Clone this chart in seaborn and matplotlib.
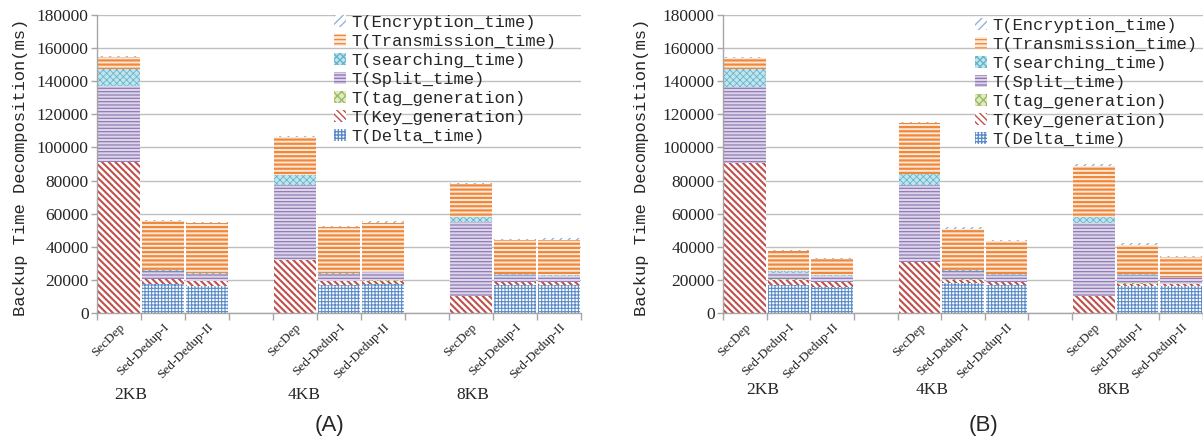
import matplotlib
matplotlib.use("Agg")
import matplotlib.pyplot as plt
import numpy as np
import pandas as pd
import seaborn as sns
from matplotlib.patches import Patch
from matplotlib.ticker import FixedLocator
from matplotlib.transforms import blended_transform_factory

# ---------------------------------------------------------------- data (ms)
schemes = ["SecDep", "Sed-Dedup-I", "Sed-Dedup-II"]
chunk_sizes = ["2KB", "4KB", "8KB"]
components = ["T(Delta_time)", "T(Key_generation)", "T(tag_generation)",
              "T(Split_time)", "T(searching_time)", "T(Transmission_time)",
              "T(Encryption_time)"]

# order within each list: (SecDep, Sed-Dedup-I, Sed-Dedup-II) for 2KB, 4KB, 8KB
a_delta = [0, 17700, 16100, 0, 17100, 17500, 0, 17100, 17100]
a_key = [91100, 2800, 3000, 32200, 2000, 2000, 10000, 1400, 1400]
a_tag = [0, 300, 300, 0, 300, 300, 0, 300, 300]
a_split = [46100, 4300, 4100, 45200, 4100, 4700, 44700, 4300, 3700]
a_search = [10200, 1000, 800, 6100, 500, 500, 3200, 500, 500]
a_trans = [7100, 29600, 30000, 22700, 27700, 29300, 20100, 20200, 21200]
a_encrypt = [600, 600, 800, 800, 600, 1000, 800, 900, 1200]

b_delta = [0, 17100, 15700, 0, 18100, 17100, 0, 16100, 16100]
b_key = [90500, 3000, 3000, 31100, 2000, 1400, 10000, 1600, 1400]
b_tag = [0, 300, 300, 0, 300, 300, 0, 300, 300]
b_split = [46300, 3700, 3100, 46300, 5100, 4300, 44300, 5100, 3700]
b_search = [10500, 1000, 800, 6700, 500, 500, 3400, 600, 500]
b_trans = [6800, 12100, 9700, 30600, 24900, 19600, 31200, 17500, 11800]
b_encrypt = [600, 600, 400, 600, 800, 1000, 800, 800, 800]

panel_a = [a_delta, a_key, a_tag, a_split, a_search, a_trans, a_encrypt]
panel_b = [b_delta, b_key, b_tag, b_split, b_search, b_trans, b_encrypt]

y_ticks = [0, 20000, 40000, 60000, 80000, 100000, 120000, 140000, 160000, 180000]

# ---------------------------------------------------------------- styles
BS = chr(92)  # backslash hatch character
styles = {
    "T(Delta_time)": dict(face="#ffffff", edge="#5b8bc7", hatch="+++++", lw=0.8),
    "T(Key_generation)": dict(face="#ffffff", edge="#c0504d", hatch=BS * 5, lw=1.5),
    "T(tag_generation)": dict(face="#dfeacb", edge="#9bbb59", hatch="xxxx", lw=0.8),
    "T(Split_time)": dict(face="#ddd5ea", edge="#907bb5", hatch="-----", lw=0.9),
    "T(searching_time)": dict(face="#c3e4ed", edge="#62b6cc", hatch="xxxxx", lw=0.6),
    "T(Transmission_time)": dict(face="#fde9d9", edge="#f0883c", hatch="----", lw=1.6),
    "T(Encryption_time)": dict(face="#ffffff", edge="#95b3d7", hatch="////", lw=1.0),
}

sns.set_theme(style="white")
plt.rcParams["font.family"] = ["Liberation Serif", "DejaVu Serif"]
plt.rcParams["hatch.linewidth"] = 1.0

# category slots: three bars per chunk size, separated by an empty slot
slots = []
for i, size in enumerate(chunk_sizes):
    slots += [f"{s}|{size}" for s in schemes]
    if i < len(chunk_sizes) - 1:
        slots.append(f"gap{i}")
bar_slots = [s for s in slots if not s.startswith("gap")]


def build_frame(values):
    rows = []
    for comp, vals in zip(components, values):
        for slot, v in zip(bar_slots, vals):
            rows.append(dict(slot=slot, component=comp, value=v))
    df = pd.DataFrame(rows)
    df["component"] = pd.Categorical(df["component"], components, ordered=True)
    df = df.sort_values(["slot", "component"])
    df["top"] = df.groupby("slot")["value"].cumsum()
    return df


def draw_panel(ax, values, legend_x, legend_y, group_offsets, group_y,
               label_x, letter, letter_x):
    df = build_frame(values)
    # draw cumulative totals from the top layer down so each layer covers the rest
    for comp in reversed(components):
        st = styles[comp]
        n0 = len(ax.patches)
        sns.barplot(data=df[df["component"] == comp], x="slot", y="top",
                    order=slots, color=st["face"], saturation=1, width=0.95,
                    errorbar=None, ax=ax)
        for p in ax.patches[n0:]:
            p.set_hatch(st["hatch"])
            p.set_edgecolor(st["edge"])
            p.set_linewidth(0)
            try:
                p.set_hatch_linewidth(st["lw"])
            except AttributeError:
                pass

    ax.set_xlim(-0.5, len(slots) - 0.5)
    ax.set_ylim(0, 180000)
    ax.set_yticks(y_ticks)
    ax.set_yticklabels([str(t) for t in y_ticks], fontsize=12.5,
                       family=["Liberation Serif"])
    ax.yaxis.grid(True, color="#bfbfbf", lw=1)
    ax.xaxis.grid(False)
    ax.set_axisbelow(True)
    for side in ("top", "right"):
        ax.spines[side].set_visible(False)
    for side in ("left", "bottom"):
        ax.spines[side].set_color("#a6a6a6")
        ax.spines[side].set_linewidth(1)
    ax.tick_params(axis="y", which="major", length=4, width=1, color="#a6a6a6",
                   direction="out", left=True, pad=2)

    # scheme names under each bar, boundary ticks between slots
    centers = [i for i, s in enumerate(slots) if not s.startswith("gap")]
    ax.set_xticks(centers)
    ax.set_xticklabels([s.split("|")[0] for s in bar_slots], rotation=45,
                       ha="right", rotation_mode="anchor", fontsize=9.5,
                       family=["Liberation Serif"])
    ax.tick_params(axis="x", which="major", length=0, pad=6)
    ax.xaxis.set_minor_locator(FixedLocator(np.arange(-0.5, len(slots), 1.0)))
    ax.tick_params(axis="x", which="minor", length=5, width=1, color="#a6a6a6",
                   direction="out", bottom=True)

    ax.set_xlabel("")
    ax.set_ylabel("Backup Time Decomposition(ms)", fontsize=12.3,
                  family=["Liberation Mono"], va="center")
    ax.yaxis.set_label_coords(label_x, 0.49)

    trans = blended_transform_factory(ax.transData, ax.transAxes)
    for i, (size, off) in enumerate(zip(chunk_sizes, group_offsets)):
        ax.text(4 * i + off, group_y, size, transform=trans, ha="center",
                va="center", fontsize=12.5, family=["Liberation Serif"])

    handles = [Patch(facecolor=styles[c]["face"], edgecolor=styles[c]["edge"],
                     hatch=styles[c]["hatch"], linewidth=0)
               for c in reversed(components)]
    ax.legend(handles, list(reversed(components)), loc="upper left",
              bbox_to_anchor=(legend_x, legend_y), frameon=False,
              prop=dict(family="Liberation Mono", size=12.3),
              handlelength=0.7, handleheight=0.7, handletextpad=0.3,
              labelspacing=0.23, borderpad=0, borderaxespad=0)

    fig = ax.figure
    fig.text(letter_x, 0.035, letter, ha="center", va="center", fontsize=16,
             family=["Liberation Sans"])


W, H = 1203, 441
fig = plt.figure(figsize=(W / 100, H / 100), dpi=100)
ax_a = fig.add_axes([97 / W, 1 - 313 / H, 484 / W, 298 / H])
ax_b = fig.add_axes([723 / W, 1 - 313 / H, 480 / W, 298 / H])

draw_panel(ax_a, panel_a, 0.49, 1.0, [0.27, 0.2, 0.05], -0.275, -0.159,
           "(A)", 329 / W)
draw_panel(ax_b, panel_b, 0.525, 0.99, [0.4, 0.3, 0.45], -0.26, -0.169,
           "(B)", 984 / W)

fig.savefig("out.png", dpi=100, facecolor="white")
